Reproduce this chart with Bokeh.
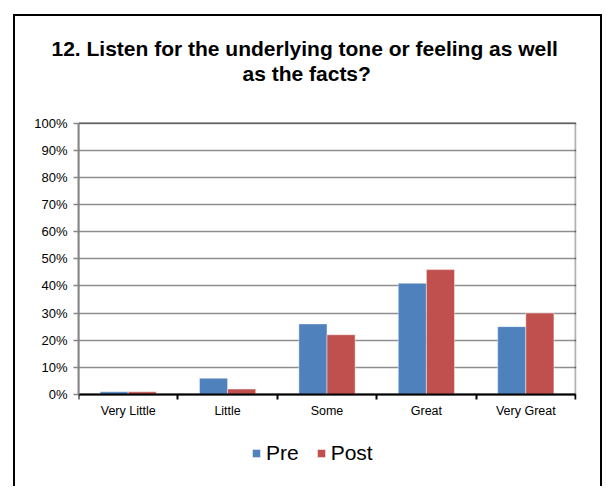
from bokeh.plotting import figure
from bokeh.models import (ColumnDataSource, Range1d, FixedTicker, NumeralTickFormatter,
                          Legend, LegendItem, Title, BoxAnnotation)
from bokeh.transform import dodge
from bokeh.embed import file_html
from bokeh.resources import INLINE

# Survey answers: share of respondents per response level
categories = ["Very Little", "Little", "Some", "Great", "Very Great"]
pre = [0.01, 0.06, 0.26, 0.41, 0.25]
post = [0.01, 0.02, 0.22, 0.46, 0.30]
y_ticks = [0.0, 0.1, 0.2, 0.3, 0.4, 0.5, 0.6, 0.7, 0.8, 0.9, 1.0]
title_lines = ["12. Listen for the underlying tone or feeling as well", "as the facts?"]
series_names = ["Pre", "Post"]

FONT = "Liberation Sans, Arial, sans-serif"
BLUE = "#4F81BD"
RED = "#C0504D"

# canvas size and frame edges (canvas pixels); the frame reaches below the
# value axis so the legend can sit under the category labels
W, H = 589, 472
FL, FR, FT, FB = 63, 561, 105, 449
PX_PER_UNIT = 271.5                       # vertical pixels for 100 %
Y0 = 378                                  # canvas row of the 0 % line

n = len(categories)
centers = [i + 0.5 for i in range(n)]     # one slot per category
source = ColumnDataSource(dict(x=centers, cat=categories, pre=pre, post=post))

x_end = n + 1 / 99.4
y_start = -(FB - Y0) / PX_PER_UNIT
y_end = 1 + (Y0 - PX_PER_UNIT - FT) / PX_PER_UNIT

p = figure(width=W, height=H, output_backend="svg", toolbar_location=None,
           x_range=Range1d(0, x_end), y_range=Range1d(y_start, y_end), title=None,
           min_border_left=FL, min_border_right=W - FR,
           min_border_top=FT, min_border_bottom=H - FB,
           styles={"margin-left": "13px", "margin-top": "14px",
                   "border-left": "2px solid black", "border-top": "2px solid black",
                   "border-right": "2px solid black"})
p.background_fill_color = "white"
p.border_fill_color = "white"
p.outline_line_color = None

# chart title: two lines, each centred over the chart area, above a blank gap
p.add_layout(Title(text=" ", standoff=12, text_font=FONT, text_font_size="21px"), "above")
title_offsets = [-27, 164]
for text, off in reversed(list(zip(title_lines, title_offsets))):
    p.add_layout(Title(text=text, align="left", offset=off, standoff=0,
                       text_font=FONT, text_font_size="21px", text_font_style="bold",
                       text_color="black"), "above")

# y axis with percent labels
ya = p.yaxis[0]
ya.ticker = FixedTicker(ticks=y_ticks)
ya.formatter = NumeralTickFormatter(format="0%")
ya.bounds = (0, 1)
ya.axis_line_color = "#868686"
ya.axis_line_width = 2
ya.major_tick_line_color = "#868686"
ya.major_tick_line_width = 1.5
ya.major_tick_out = 5
ya.major_tick_in = 0
ya.minor_tick_line_color = None
ya.major_label_text_font = FONT
ya.major_label_text_font_size = "13px"
ya.major_label_text_color = "black"
ya.major_label_standoff = 6

p.ygrid.ticker = FixedTicker(ticks=y_ticks)
p.ygrid.grid_line_color = "#8e8e8e"
p.ygrid.grid_line_width = 1.5
p.xgrid.grid_line_color = None

# plot-area border
p.add_layout(BoxAnnotation(left=0, right=n, bottom=0, top=1, fill_alpha=0,
                           line_color="black", line_width=2, level="underlay"))

# x axis on the 0 % line: names at slot centres, tick marks on slot boundaries
xa = p.xaxis[0]
xa.fixed_location = 0
xa.bounds = (0, n)
xa.ticker = FixedTicker(ticks=centers, minor_ticks=list(range(n + 1)))
xa.major_label_overrides = {c: name for c, name in zip(centers, categories)}
xa.major_tick_line_color = None
xa.major_tick_out = 5
xa.major_tick_in = 0
xa.minor_tick_line_color = "black"
xa.minor_tick_line_width = 2
xa.minor_tick_out = 5
xa.minor_tick_in = 0
xa.axis_line_color = "black"
xa.axis_line_width = 2
xa.major_label_text_font = FONT
xa.major_label_text_font_size = "12.5px"
xa.major_label_text_color = "black"
xa.major_label_standoff = 4

bw = 0.283
r_pre = p.vbar(x=dodge("x", -bw / 2), top="pre", width=bw, source=source,
               fill_color=BLUE, line_color="white", line_alpha=0.45, line_width=1)
r_post = p.vbar(x=dodge("x", bw / 2), top="post", width=bw, source=source,
                fill_color=RED, line_color="white", line_alpha=0.45, line_width=1)

legend = Legend(items=[LegendItem(label=series_names[0], renderers=[r_pre]),
                       LegendItem(label=series_names[1], renderers=[r_post])],
                orientation="horizontal", location=(173, 0),
                glyph_width=10, glyph_height=10, label_standoff=5, spacing=17,
                padding=0, margin=0, border_line_color=None, background_fill_alpha=0,
                label_text_font=FONT, label_text_font_size="21px", label_text_color="black")
p.add_layout(legend)

open("out.html", "w").write(file_html(p, INLINE))
